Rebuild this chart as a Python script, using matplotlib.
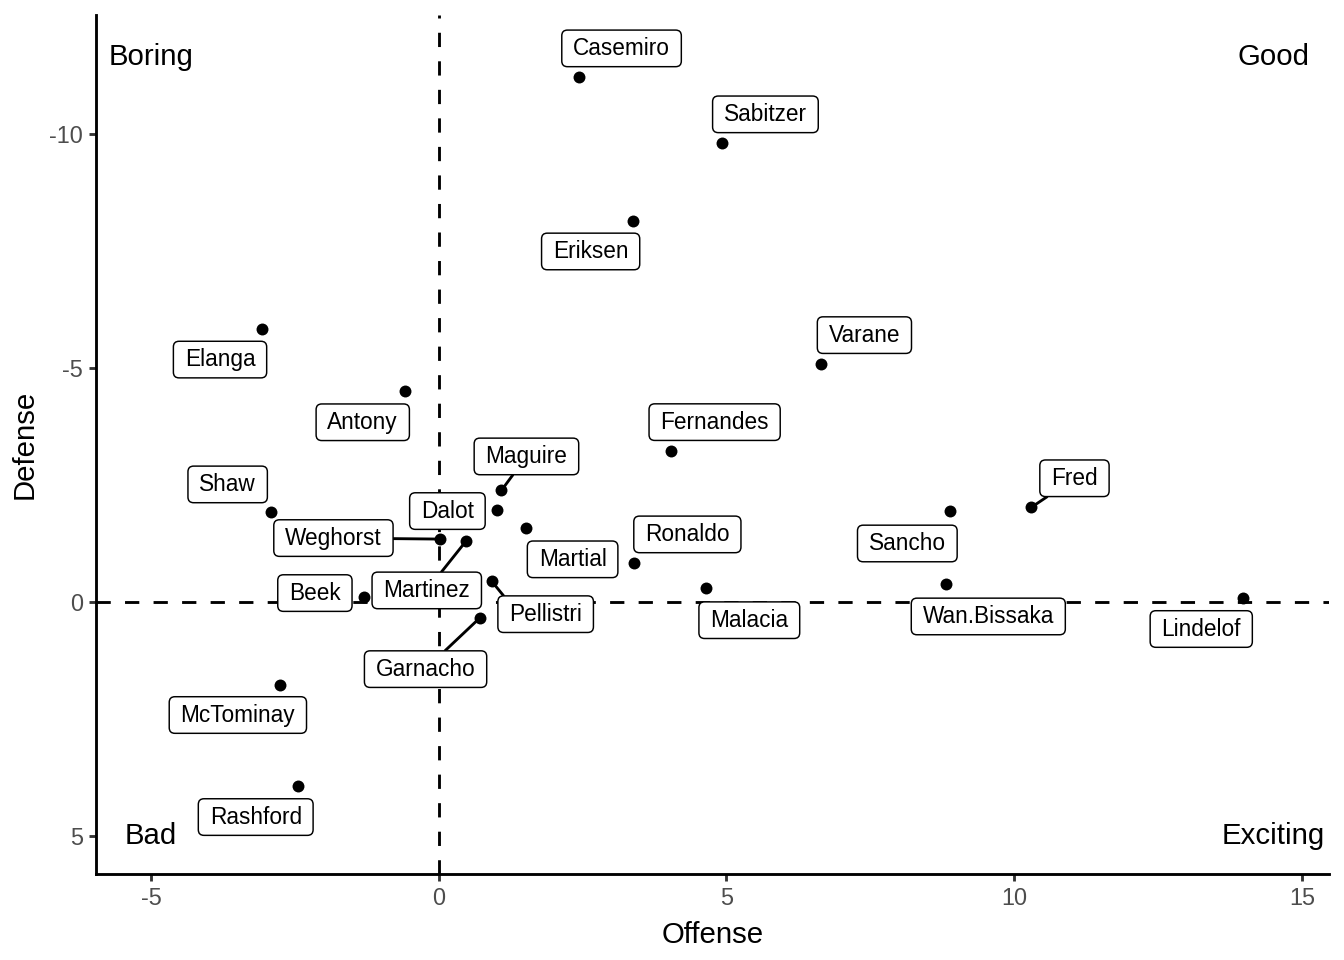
import matplotlib
matplotlib.use("Agg")
from matplotlib import pyplot as plt
from matplotlib.patches import BoxStyle

plt.rcParams['font.family'] = ['Liberation Sans', 'DejaVu Sans']
plt.rcParams['axes.unicode_minus'] = False

# player scores
players = ['Casemiro', 'Sabitzer', 'Eriksen', 'Elanga', 'Varane', 'Antony',
           'Fernandes', 'Maguire', 'Shaw', 'Dalot', 'Weghorst', 'Martial',
           'Ronaldo', 'Sancho', 'Fred', 'Martinez', 'Beek', 'Pellistri',
           'Malacia', 'Wan.Bissaka', 'Lindelof', 'Garnacho', 'McTominay',
           'Rashford']
offense = [2.43, 4.93, 3.37, -3.07, 6.65, -0.59,
           4.03, 1.09, -2.92, 1.02, 0.03, 1.51,
           3.40, 8.89, 10.30, 0.47, -1.30, 0.92,
           4.65, 8.82, 13.98, 0.71, -2.76,
           -2.45]
defense = [-11.22, -9.81, -8.14, -5.85, -5.09, -4.51,
           -3.23, -2.39, -1.92, -1.97, -1.35, -1.58,
           -0.83, -1.94, -2.03, -1.30, -0.11, -0.45,
           -0.30, -0.38, -0.09, 0.34, 1.77,
           3.93]

quadrants = ['Boring', 'Good', 'Bad', 'Exciting']
quad_x = [-5, 14.5, -5, 14.5]
quad_y = [-11.65, -11.65, 5, 5]

# label placement (pixel offsets from each point), repel-style
label_offsets = {
    'Casemiro': (43, 29), 'Sabitzer': (43, 29), 'Eriksen': (-42, -30),
    'Elanga': (-42, -31), 'Varane': (43, 29), 'Antony': (-42, -31),
    'Fernandes': (44, 29), 'Maguire': (25, 34), 'Shaw': (-43, 28),
    'Dalot': (-50, -1), 'Weghorst': (-107, 1), 'Martial': (47, -31),
    'Ronaldo': (53, 29), 'Sancho': (-43, -32), 'Fred': (43, 29),
    'Martinez': (-39, -49), 'Beek': (-49, 4), 'Pellistri': (54, -33),
    'Malacia': (43, -32), 'Wan.Bissaka': (42, -32), 'Lindelof': (-42, -31),
    'Garnacho': (-54, -51), 'McTominay': (-42, -30), 'Rashford': (-42, -31),
}
# where the connector leaves the label (relative to the text box)
with_segment = {'Maguire': (0.5, 0.5), 'Weghorst': (0.5, 0.5),
                'Martinez': (0.5, 0.5), 'Pellistri': (0.0, 1.0),
                'Garnacho': (0.5, 0.5), 'Fred': (0.5, 0.5)}


def label_box(x0, y0, width, height, mutation_size):
    # wider horizontal than vertical padding, like geom_label
    px = 0.5 * mutation_size
    py = 0.3 * mutation_size
    rnd = BoxStyle.Round(pad=0, rounding_size=0.25)
    return rnd(x0 - px, y0 - py, width + 2 * px, height + 2 * py, mutation_size)


fig = plt.figure(figsize=(7, 5), dpi=192)
ax = fig.add_axes([96 / 1344, 1 - 874 / 960, (1329 - 96) / 1344, (874 - 14.7) / 960])

lw = 1.07
ax.axhline(0, color='black', lw=lw, linestyle=(0, (5, 5)), zorder=1)
ax.axvline(0, color='black', lw=lw, linestyle=(0, (5, 5)), zorder=1)

ax.scatter(offense, defense, s=20, color='black', zorder=3, linewidths=0)

for name, x, y in zip(players, offense, defense):
    dx, dy = label_offsets[name]
    arrow = None
    if name in with_segment:
        arrow = dict(arrowstyle='-', color='black', lw=lw, shrinkA=0, shrinkB=0,
                     relpos=with_segment[name])
    ax.annotate(name, (x, y), xytext=(dx, dy), textcoords='offset pixels',
                ha='center', va='center', fontsize=8.5, zorder=4,
                bbox=dict(boxstyle=label_box, fc='white', ec='black', lw=0.55),
                arrowprops=arrow)

for t, x, y in zip(quadrants, quad_x, quad_y):
    ax.text(x, y, t, ha='center', va='center', fontsize=11, zorder=2)

ax.set_xlim(-5.955, 15.47)
ax.set_ylim(5.81, -12.56)
ax.set_xticks([-5, 0, 5, 10, 15])
ax.set_yticks([-10, -5, 0, 5])
ax.set_xlabel('Offense', fontsize=11, labelpad=4)
ax.set_ylabel('Defense', fontsize=11, labelpad=4)
ax.tick_params(labelsize=8.8, labelcolor='#4D4D4D', color='#333333',
               length=2.75, width=lw, pad=2.2)
for side in ['top', 'right']:
    ax.spines[side].set_visible(False)
for side in ['left', 'bottom']:
    ax.spines[side].set_linewidth(lw)

fig.savefig('out.png', dpi=192)
